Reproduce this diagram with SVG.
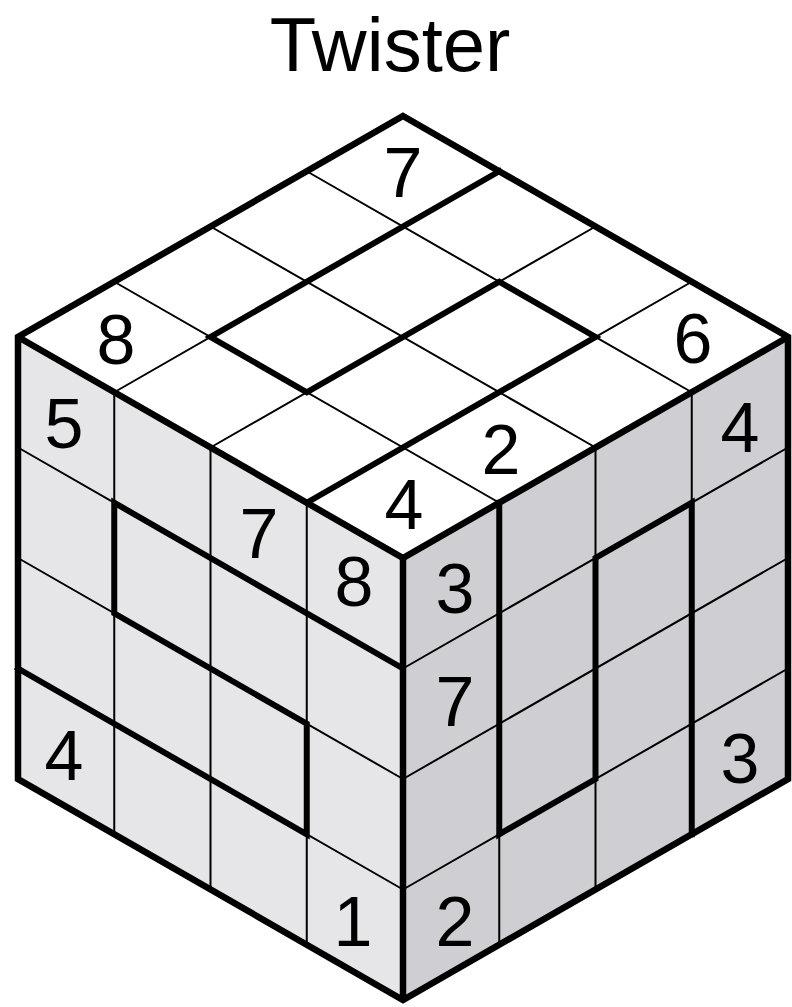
<svg xmlns="http://www.w3.org/2000/svg" width="792" height="1007" viewBox="0 0 792 1007">
<style>
.thin{stroke:#000;stroke-width:2;fill:none}
.thick{stroke:#000;stroke-width:6;fill:none;stroke-linejoin:miter;stroke-linecap:square}
.edge{stroke:#000;stroke-width:6.5;fill:none;stroke-linejoin:miter}
.num{font-family:"Liberation Sans",Arial,sans-serif;font-size:70px;fill:#000;text-anchor:middle}
.title{font-family:"Liberation Sans",Arial,sans-serif;font-size:76px;fill:#000;text-anchor:middle}
</style>
<rect width="792" height="1007" fill="#fff"/>
<text class="title" x="390" y="71">Twister</text>
<g id="face-top">
<polygon points="403,116 788,337 403,558 18,337" fill="#fff"/>
<path class="thin" d="M499.25,171.25L114.25,392.25M595.5,226.5L210.5,447.5M691.75,281.75L306.75,502.75M306.75,171.25L691.75,392.25M210.5,226.5L595.5,447.5M114.25,281.75L499.25,502.75"/>
<path class="thick" d="M499.25,171.25L210.5,337L306.75,392.25L499.25,281.75L595.5,337L306.75,502.75"/>
<text class="num" x="403" y="197">7</text>
<text class="num" x="116" y="364">8</text>
<text class="num" x="693" y="363">6</text>
<text class="num" x="501" y="474">2</text>
<text class="num" x="404" y="529">4</text>
</g>
<g id="face-left">
<polygon points="18,337 403,558 403,1000 18,779" fill="#e6e6e8"/>
<path class="thin" d="M114.25,392.25V834.25M210.5,447.5V889.5M306.75,502.75V944.75M18,447.5L403,668.5M18,558L403,779M18,668.5L403,889.5"/>
<path class="thick" d="M403,668.5L114.25,502.75L114.25,613.25L306.75,723.75L306.75,834.25L18,668.5"/>
<text class="num" x="64" y="448">5</text>
<text class="num" x="259" y="558">7</text>
<text class="num" x="354" y="606">8</text>
<text class="num" x="64" y="780">4</text>
<text class="num" x="353" y="946">1</text>
</g>
<g id="face-right">
<polygon points="403,558 788,337 788,779 403,1000" fill="#cfcfd3"/>
<path class="thin" d="M499.25,502.75V944.75M595.5,447.5V889.5M691.75,392.25V834.25M403,668.5L788,447.5M403,779L788,558M403,889.5L788,668.5"/>
<path class="thick" d="M499.25,502.75L499.25,834.25L595.5,779L595.5,558L691.75,502.75L691.75,834.25"/>
<text class="num" x="455" y="613">3</text>
<text class="num" x="455" y="726">7</text>
<text class="num" x="455" y="946">2</text>
<text class="num" x="740" y="452">4</text>
<text class="num" x="740" y="783">3</text>
</g>
<g id="edges">
<polygon class="edge" points="403,116 788,337 788,779 403,1000 18,779 18,337"/>
<path class="edge" d="M18,337L403,558L788,337"/>
<path class="edge" d="M403,558V1000" stroke-width="8"/>
</g>
</svg>
